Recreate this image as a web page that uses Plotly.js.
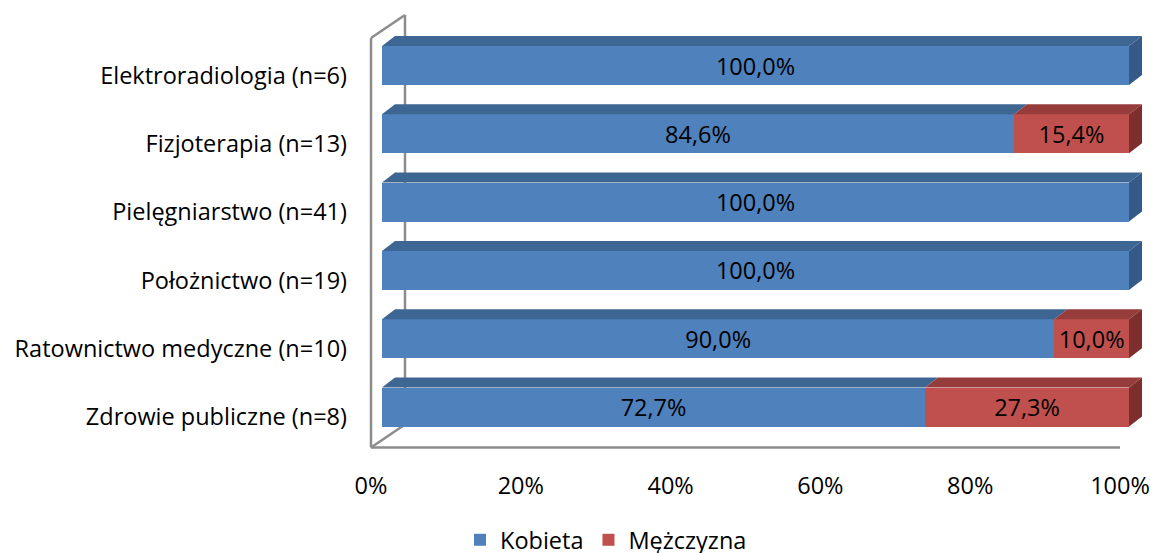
<!DOCTYPE html>
<html>
<head>
<meta charset="utf-8">
<script src="https://cdn.plot.ly/plotly-3.0.1.min.js"></script>
<style>html,body{margin:0;padding:0;background:#fff;}#chart{width:1151px;height:553px;}</style>
</head>
<body>
<div id="chart"></div>
<script>
// ---- data ----
const categories = [
  'Zdrowie publiczne (n=8)',
  'Ratownictwo medyczne (n=10)',
  'Położnictwo (n=19)',
  'Pielęgniarstwo (n=41)',
  'Fizjoterapia (n=13)',
  'Elektroradiologia (n=6)'
];
const kobieta   = [72.7, 90.0, 100.0, 100.0, 84.6, 100.0];
const mezczyzna = [27.3, 10.0, 0, 0, 15.4, 0];
const seriesNames = ['Kobieta', 'Mężczyzna'];
const tickValues = [0, 20, 40, 60, 80, 100];
const tickLabels = ['0%', '20%', '40%', '60%', '80%', '100%'];

// ---- styling / geometry ----
const W = 1151, H = 553;
const FONT = 'Open Sans, sans-serif';
const FS = 23.5;
const front = ['#4F81BD', '#C0504D'];
const topC  = ['#3E6693', '#963C3A'];
const sideC = ['#355A88', '#7E2F2D'];
const plot = {l: 360, r: 1145, t: 10, b: 452};
const pw = plot.r - plot.l, ph = plot.b - plot.t;
const bar0 = 382, bar100 = 1129;      // front face of bars
const floor0 = 371, floor100 = 1120;  // front edge of floor
const cat0 = 407, catStep = 68.3;     // pixel centre of first category
const barPx = 39;
const depth = {dx: 13, dy: 10};       // bar top face offset (px)
const wallDepth = {dx: 34, dy: 23};

const bxu = (bar100 - bar0) / 100;
const fxu = (floor100 - floor0) / 100;
const xRange = [(plot.l - bar0) / bxu, 100 + (plot.r - bar100) / bxu];
const x2Range = [(plot.l - floor0) / fxu, 100 + (plot.r - floor100) / fxu];
const yRange = [-(plot.b - cat0) / catStep, (cat0 - plot.t) / catStep];
const bw = barPx / catStep;
const ddx = depth.dx / bxu, ddy = depth.dy / catStep;

const yIdx = categories.map((c, i) => i);
const fmt = v => v > 0 ? v.toFixed(1).replace('.', ',') + '%' : '';

const series = [kobieta, mezczyzna];
const traces = series.map((vals, s) => ({
  type: 'bar', orientation: 'h', name: seriesNames[s],
  x: vals, y: yIdx, width: bw,
  marker: {color: front[s], line: {width: 0}},
  text: vals.map(fmt), textposition: 'inside', insidetextanchor: 'middle',
  textangle: 0, constraintext: 'none',
  textfont: {family: FONT, size: FS, color: '#000'},
  cliponaxis: false, hoverinfo: 'x+y+name'
}));

// 3D faces computed from the data
const shapes = [];
const px2 = x => (x - plot.l) / pw, py2 = y => (plot.b - y) / ph;
const gray = {color: '#8C8C8C', width: 2.5};
const fx = floor0, fy = plot.b - 4.5;
const wallTop = 38;
[
  [fx, fy, fx, wallTop],
  [fx, wallTop, fx + wallDepth.dx, wallTop - wallDepth.dy],
  [fx + wallDepth.dx, wallTop - wallDepth.dy, fx + wallDepth.dx, fy - wallDepth.dy],
  [fx, fy, fx + wallDepth.dx, fy - wallDepth.dy],
  [fx, fy, floor100, fy]
].forEach(([a, b, c, d]) => shapes.push({
  type: 'line', xref: 'paper', yref: 'paper', layer: 'below',
  x0: px2(a), y0: py2(b), x1: px2(c), y1: py2(d), line: gray
}));

yIdx.forEach(i => {
  let start = 0;
  const yt = i + bw / 2, yb = i - bw / 2;
  series.forEach((vals, s) => {
    const v = vals[i];
    if (v <= 0) return;
    const x0 = start, x1 = start + v;
    shapes.push({
      type: 'path', xref: 'x', yref: 'y', layer: 'above', line: {width: 0},
      fillcolor: topC[s],
      path: `M${x0},${yt} L${x1},${yt} L${x1 + ddx},${yt + ddy} L${x0 + ddx},${yt + ddy} Z`
    });
    start = x1;
  });
  const last = series.map(v => v[i] > 0).lastIndexOf(true);
  shapes.push({
    type: 'path', xref: 'x', yref: 'y', layer: 'above', line: {width: 0},
    fillcolor: sideC[last],
    path: `M${start},${yb} L${start},${yt} L${start + ddx},${yt + ddy} L${start + ddx},${yb + ddy} Z`
  });
});

// invisible helper trace to carry the floor axis
traces.push({type: 'scatter', x: [0, 100], y: [0, 0], xaxis: 'x2', mode: 'markers',
  marker: {opacity: 0}, showlegend: false, hoverinfo: 'skip'});

const layout = {
  width: W, height: H,
  margin: {l: plot.l, r: W - plot.r, t: plot.t, b: H - plot.b, autoexpand: false},
  paper_bgcolor: '#fff', plot_bgcolor: 'rgba(0,0,0,0)',
  barmode: 'stack', showlegend: true,
  font: {family: FONT, size: FS, color: '#000'},
  xaxis: {range: xRange, showgrid: false, zeroline: false, showline: false,
    showticklabels: false, fixedrange: true},
  xaxis2: {range: x2Range, overlaying: 'x', anchor: 'y', side: 'bottom',
    tickvals: tickValues, ticktext: tickLabels, showgrid: false, zeroline: false,
    showline: false, ticks: '', ticklabelstandoff: 17,
    tickfont: {family: FONT, size: FS, color: '#000'}},
  yaxis: {range: yRange, tickvals: yIdx, ticktext: categories, showgrid: false,
    zeroline: false, showline: false, ticks: '', ticklabelstandoff: 12,
    ticklabelshift: 10,
    tickfont: {family: FONT, size: FS, color: '#000'}},
  legend: {orientation: 'h', xanchor: 'left', yanchor: 'top', traceorder: 'normal',
    x: (460 - plot.l) / pw, y: -(518 - plot.b) / ph,
    font: {family: FONT, size: FS, color: '#000'}, bgcolor: 'rgba(0,0,0,0)'},
  shapes: shapes
};

Plotly.newPlot('chart', traces, layout, {displayModeBar: false, staticPlot: true});
</script>
</body>
</html>
